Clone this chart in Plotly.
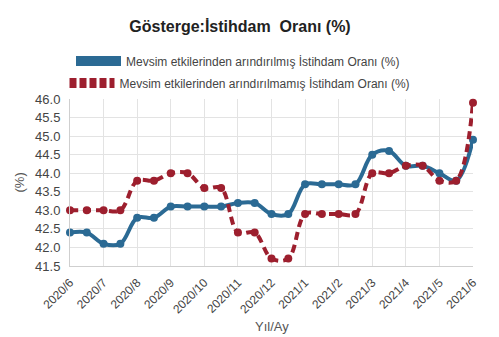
import plotly.graph_objects as go

# Month tick labels (one per gridline)
months = ["2020/6", "2020/7", "2020/8", "2020/9", "2020/10", "2020/11", "2020/12",
          "2021/1", "2021/2", "2021/3", "2021/4", "2021/5", "2021/6"]

# Observations, two per month
adjusted = [42.4, 42.4, 42.1, 42.1, 42.8, 42.8, 43.1, 43.1, 43.1, 43.1, 43.2, 43.2,
            42.9, 42.9, 43.7, 43.7, 43.7, 43.7, 44.5, 44.6, 44.2, 44.2, 44.0, 43.8, 44.9]
unadjusted = [43.0, 43.0, 43.0, 43.0, 43.8, 43.8, 44.0, 44.0, 43.6, 43.6, 42.4, 42.4,
              41.7, 41.7, 42.9, 42.9, 42.9, 42.9, 44.0, 44.0, 44.2, 44.2, 43.8, 43.8, 45.9]

name_adj = "Mevsim etkilerinden arındırılmış İstihdam Oranı (%)"
name_unadj = "Mevsim etkilerinden arındırılmamış İstihdam Oranı (%)"

BLUE = "#2b6a94"
RED = "#9d1f2e"
FONT = "Liberation Sans, Arial, sans-serif"

W, H = 499, 337
L, R, T, B = 70, 26, 99, 71
plot_w, plot_h = W - L - R, H - T - B

x = [i / 2 for i in range(len(adjusted))]

fig = go.Figure()

fig.add_trace(go.Scatter(
    x=x, y=adjusted, mode="lines+markers", showlegend=False,
    line=dict(color=BLUE, width=4, shape="spline", smoothing=1.0),
    marker=dict(color=BLUE, size=8), cliponaxis=False))
fig.add_trace(go.Scatter(
    x=x, y=unadjusted, mode="lines+markers", showlegend=False,
    line=dict(color=RED, width=4, dash="8px,5px", shape="spline", smoothing=1.0),
    marker=dict(color=RED, size=8), cliponaxis=False))

# Legend entries, each in its own centred legend
fig.add_trace(go.Scatter(x=[None], y=[None], mode="lines", name=name_adj,
                         line=dict(color=BLUE, width=12), legend="legend"))
fig.add_trace(go.Scatter(x=[None], y=[None], mode="lines", name=name_unadj,
                         line=dict(color=RED, width=12, dash="7px,3px"), legend="legend2"))

legend_common = dict(xref="container", yref="container", xanchor="center", yanchor="middle",
                     bgcolor="rgba(0,0,0,0)", font=dict(family=FONT, size=12, color="#444"),
                     itemwidth=45)

fig.update_layout(
    width=W, height=H,
    margin=dict(l=L, r=R, t=T, b=B, autoexpand=False),
    paper_bgcolor="white", plot_bgcolor="white",
    font=dict(family=FONT, color="#555"),
    title=dict(text="<b>Gösterge:İstihdam  Oranı (%)</b>", x=240 / W, xanchor="center",
               xref="container", y=1 - 26 / H, yanchor="middle", yref="container",
               font=dict(family=FONT, size=16, color="#222")),
    legend=dict(x=238 / W, y=1 - 61 / H, **legend_common),
    legend2=dict(x=240 / W, y=1 - 83 / H, **legend_common),
    xaxis=dict(range=[0, 12], tickmode="array", tickvals=list(range(len(months))),
               ticktext=months, tickangle=-45, showgrid=True, gridcolor="#e3e3e3",
               showline=True, linecolor="#cfcfcf", zeroline=False, automargin=False,
               ticks="outside", ticklen=4, tickcolor="rgba(0,0,0,0)",
               tickfont=dict(family=FONT, size=12, color="#444")),
    yaxis=dict(range=[41.5, 46.0], dtick=0.5, tickformat=".1f", showgrid=True,
               gridcolor="#e3e3e3", showline=True, linecolor="#cfcfcf", zeroline=False,
               automargin=False, ticks="outside", ticklen=6, tickcolor="rgba(0,0,0,0)",
               tickfont=dict(family=FONT, size=13, color="#444")),
    annotations=[
        # axis titles placed in pixel terms relative to the plot area
        dict(text="Yıl/Ay", xref="paper", yref="paper", x=0.5, y=-(326 - (H - B)) / plot_h,
             xanchor="center", yanchor="middle", showarrow=False,
             font=dict(family=FONT, size=13, color="#555")),
        dict(text="(%)", xref="paper", yref="paper", x=-(L - 19) / plot_w, y=0.5,
             xanchor="center", yanchor="middle", textangle=-90, showarrow=False,
             font=dict(family=FONT, size=13, color="#555")),
    ],
)

fig.write_html("out.html")
